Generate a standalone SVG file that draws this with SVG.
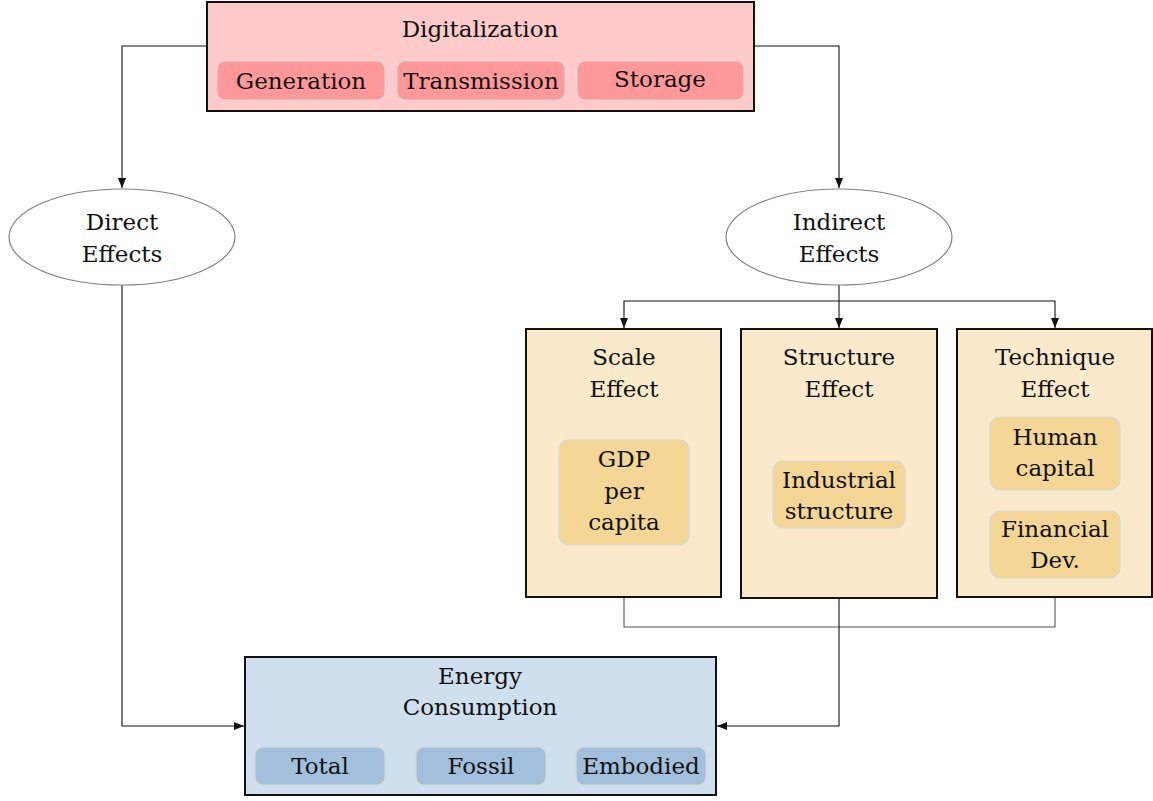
<svg xmlns="http://www.w3.org/2000/svg" width="1153" height="801" viewBox="0 0 1153 801">
<style>
text{font-family:"DejaVu Serif","Liberation Serif",serif;font-size:23px;fill:#111;text-anchor:middle}
.main{stroke:#111;stroke-width:2}
.sub{stroke:#d8d8d8;stroke-width:1.2}
.ell{fill:#fff;stroke:#808080;stroke-width:1.2}
.conn{fill:none;stroke:#111;stroke-width:1.1}
.gray{fill:none;stroke:#555;stroke-width:1.1}
</style>
<defs>
<marker id="ah" viewBox="0 0 10 8" refX="10" refY="4" markerWidth="10" markerHeight="8" markerUnits="userSpaceOnUse" orient="auto">
<path d="M0,0 L10,4 L0,8 Z" fill="#111"/>
</marker>
</defs>
<g id="connectors">
<path class="conn" d="M207,46 H122 V188" marker-end="url(#ah)"/>
<path class="conn" d="M754,46 H839 V188" marker-end="url(#ah)"/>
<path class="conn" d="M839,285 V328" marker-end="url(#ah)"/>
<path class="conn" d="M839,301 H624 V328" marker-end="url(#ah)"/>
<path class="conn" d="M839,301 H1055 V328" marker-end="url(#ah)"/>
<path class="gray" d="M624,597 V627 H1055 V597"/>
<path class="conn" d="M839,598 V726 H717" marker-end="url(#ah)"/>
<path class="conn" d="M122,285 V726 H244" marker-end="url(#ah)"/>
</g>
<g id="digitalization">
<rect class="main" x="207" y="2" width="547" height="109" fill="#ffcaca"/>
<text x="480" y="37">Digitalization</text>
<rect class="sub" x="217" y="61" width="168" height="39" rx="8" fill="#ff9898"/>
<text x="301" y="89">Generation</text>
<rect class="sub" x="397" y="61" width="168" height="39" rx="8" fill="#ff9898"/>
<text x="481" y="89">Transmission</text>
<rect class="sub" x="577" y="61" width="167" height="39" rx="8" fill="#ff9898"/>
<text x="660" y="87">Storage</text>
</g>
<g id="direct">
<ellipse class="ell" cx="122" cy="237" rx="113" ry="48"/>
<text x="122" y="230">Direct</text>
<text x="122" y="262">Effects</text>
</g>
<g id="indirect">
<ellipse class="ell" cx="839" cy="237" rx="113" ry="48"/>
<text x="839" y="230">Indirect</text>
<text x="839" y="262">Effects</text>
</g>
<g id="scale">
<rect class="main" x="526" y="329" width="195" height="268" fill="#faeacb"/>
<text x="624" y="365">Scale</text>
<text x="624" y="397">Effect</text>
<rect class="sub" x="559" y="440" width="130" height="105" rx="10" fill="#f4d697"/>
<text x="624" y="467">GDP</text>
<text x="624" y="499">per</text>
<text x="624" y="530">capita</text>
</g>
<g id="structure">
<rect class="main" x="741" y="329" width="196" height="269" fill="#faeacb"/>
<text x="839" y="365">Structure</text>
<text x="839" y="397">Effect</text>
<rect class="sub" x="773" y="461" width="132" height="67" rx="10" fill="#f4d697"/>
<text x="839" y="488">Industrial</text>
<text x="839" y="519">structure</text>
</g>
<g id="technique">
<rect class="main" x="957" y="329" width="195" height="268" fill="#faeacb"/>
<text x="1055" y="365">Technique</text>
<text x="1055" y="397">Effect</text>
<rect class="sub" x="990" y="417" width="130" height="73" rx="10" fill="#f4d697"/>
<text x="1055" y="445">Human</text>
<text x="1055" y="476">capital</text>
<rect class="sub" x="990" y="511" width="130" height="67" rx="10" fill="#f4d697"/>
<text x="1055" y="537">Financial</text>
<text x="1055" y="568">Dev.</text>
</g>
<g id="energy">
<rect class="main" x="245" y="657" width="471" height="138" fill="#cfdfee"/>
<text x="480" y="684">Energy</text>
<text x="480" y="715">Consumption</text>
<rect class="sub" x="255" y="747" width="130" height="38" rx="8" fill="#a2c0dc"/>
<text x="320" y="774">Total</text>
<rect class="sub" x="416" y="747" width="130" height="38" rx="8" fill="#a2c0dc"/>
<text x="481" y="774">Fossil</text>
<rect class="sub" x="576" y="747" width="130" height="38" rx="8" fill="#a2c0dc"/>
<text x="641" y="774">Embodied</text>
</g>
</svg>
